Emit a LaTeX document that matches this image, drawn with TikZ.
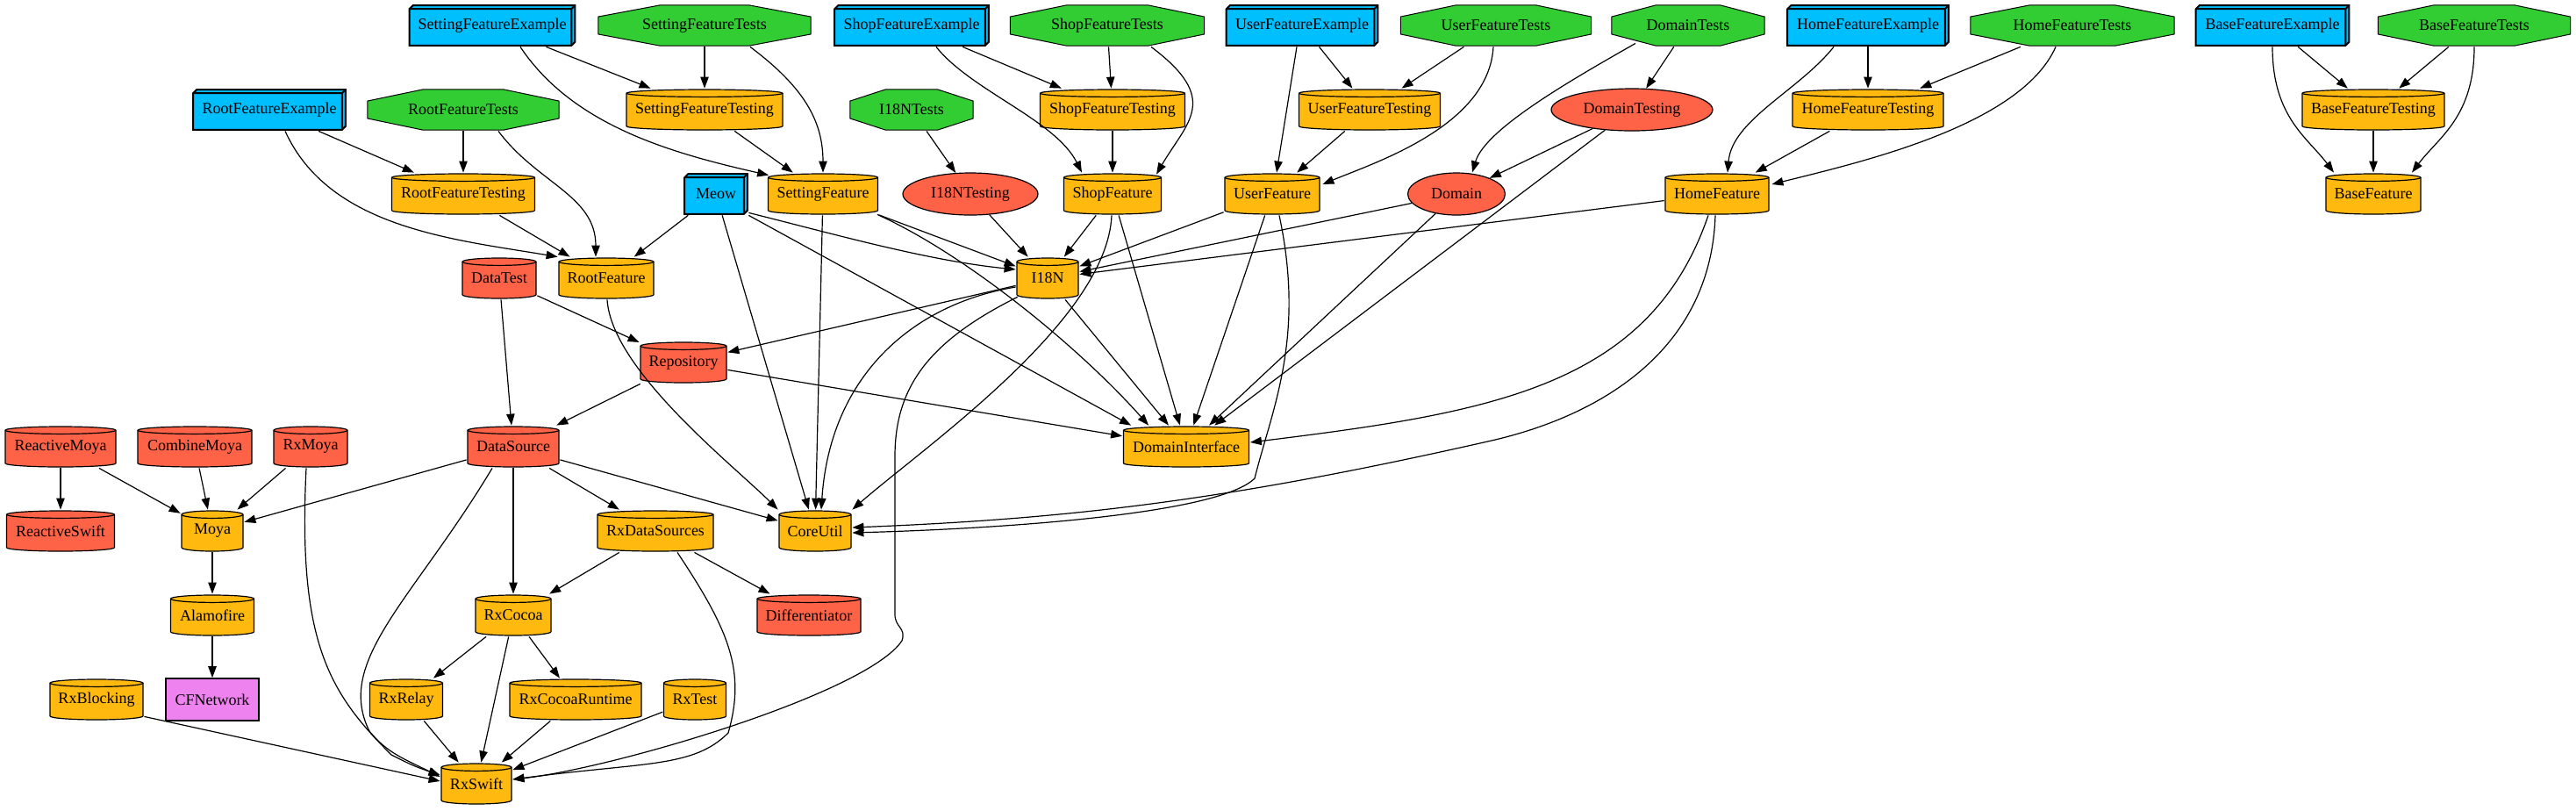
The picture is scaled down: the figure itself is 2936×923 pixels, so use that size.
\documentclass[tikz,border=0pt]{standalone}
\usepackage{fontspec}
\setmainfont{Liberation Serif}
\usetikzlibrary{shapes.geometric,arrows.meta,calc}
\definecolor{orng}{HTML}{FFB90F}
\definecolor{tom}{HTML}{FF6347}
\definecolor{sky}{HTML}{00BFFF}
\definecolor{lgreen}{HTML}{32CD32}
\definecolor{viol}{HTML}{EE82EE}
\tikzset{
  base/.style={inner sep=0pt, minimum height=24pt, font=\fontsize{9}{10}\selectfont, text=black},
  cyl/.style 2 args={base, rectangle, minimum width=#2, path picture={
     \draw[fill=#1, line width=0.6pt] let \p1=(path picture bounding box.south west), \p2=(path picture bounding box.north east), \n1={(\x2-\x1)/2-0.5pt} in
      (\x1+0.5pt,\y2-2.6pt) -- (\x1+0.5pt,\y1+2.6pt) arc[start angle=180,end angle=360,x radius=\n1,y radius=2.1pt] -- (\x2-0.5pt,\y2-2.6pt) arc[start angle=0,end angle=180,x radius=\n1,y radius=2.1pt] -- cycle;
     \draw[line width=0.6pt] let \p1=(path picture bounding box.south west), \p2=(path picture bounding box.north east), \n1={(\x2-\x1)/2-0.5pt} in
      (\x1+0.5pt,\y2-2.6pt) arc[start angle=180,end angle=360,x radius=\n1,y radius=2.1pt];
  }},
  ocyl/.style={cyl={orng}{#1}},
  rcyl/.style={cyl={tom}{#1}},
  b3d/.style={base, rectangle, minimum width=#1, path picture={
     \draw[fill=sky, line width=1pt, line join=miter] let \p1=(path picture bounding box.south west), \p2=(path picture bounding box.north east) in
       (\x1+0.6pt,\y1+0.6pt) -- (\x2-2.6pt,\y1+0.6pt) -- (\x2-0.6pt,\y1+2.6pt) -- (\x2-0.6pt,\y2-0.6pt) -- (\x1+2.6pt,\y2-0.6pt) -- (\x1+0.6pt,\y2-2.6pt) -- cycle;
     \draw[line width=1pt, line join=miter] let \p1=(path picture bounding box.south west), \p2=(path picture bounding box.north east) in
       (\x1+0.6pt,\y2-2.6pt) -- (\x2-2.6pt,\y2-2.6pt) -- (\x2-2.6pt,\y1+0.6pt)
       (\x2-2.6pt,\y2-2.6pt) -- (\x2-0.6pt,\y2-0.6pt);
  }},
  oct/.style={base, rectangle, minimum width=#1, path picture={
     \draw[fill=lgreen, line width=0.5pt] let \p1=(path picture bounding box.south west), \p2=(path picture bounding box.north east), \n1={(\x2-\x1)*0.293}, \n2={(\y2-\y1)*0.293} in
       (\x1+\n1,\y1+0.4pt) -- (\x2-\n1,\y1+0.4pt) -- (\x2-0.4pt,\y1+\n2) -- (\x2-0.4pt,\y2-\n2) -- (\x2-\n1,\y2-0.4pt) -- (\x1+\n1,\y2-0.4pt) -- (\x1+0.4pt,\y2-\n2) -- (\x1+0.4pt,\y1+\n2) -- cycle;
  }},
  ell/.style={base, ellipse, draw, fill=tom, line width=0.6pt, minimum width=#1},
  rbox/.style={base, rectangle, draw, fill=viol, line width=0.8pt, minimum width=#1},
  arr/.style={-{Triangle[length=6.5pt,width=4.7pt]}, line width=0.6pt}
}
\begin{document}
\begin{tikzpicture}[x=0.5pt,y=0.5pt]
\path[use as bounding box] (0,0) rectangle (2936,-923);
% row 1
\node[b3d=95.5pt] (SFE) at (561,-29) {SettingFeatureExample};
\node[oct=122pt] (SFT) at (803,-29) {SettingFeatureTests};
\node[b3d=89pt] (ShFE) at (1039,-29) {ShopFeatureExample};
\node[oct=111.5pt] (ShFT) at (1262,-29) {ShopFeatureTests};
\node[b3d=87.5pt] (UFE) at (1484,-29) {UserFeatureExample};
\node[oct=109.5pt] (UFT) at (1705,-29) {UserFeatureTests};
\node[oct=88pt] (DT) at (1924,-29) {DomainTests};
\node[b3d=93pt] (HFE) at (2129,-29) {HomeFeatureExample};
\node[oct=117pt] (HFT) at (2362,-29) {HomeFeatureTests};
\node[b3d=88.5pt] (BFE) at (2590,-29) {BaseFeatureExample};
\node[oct=110.5pt] (BFT) at (2820,-29) {BaseFeatureTests};
% row 2
\node[b3d=88pt] (RFE) at (307,-125) {RootFeatureExample};
\node[oct=110pt] (RFT) at (528,-125) {RootFeatureTests};
\node[ocyl=90pt] (SFTg) at (803,-125) {SettingFeatureTesting};
\node[oct=71pt] (I18NT) at (1039,-125) {I18NTests};
\node[ocyl=83.5pt] (ShFTg) at (1268,-125) {ShopFeatureTesting};
\node[ocyl=81.5pt] (UFTg) at (1561,-125) {UserFeatureTesting};
\node[ell=92pt] (DTg) at (1860,-125) {DomainTesting};
\node[ocyl=87pt] (HFTg) at (2129,-125) {HomeFeatureTesting};
\node[ocyl=82pt] (BFTg) at (2705,-125) {BaseFeatureTesting};
% row 3
\node[ocyl=82.5pt] (RFTg) at (528,-221) {RootFeatureTesting};
\node[b3d=37pt] (Meow) at (816,-221) {Meow};
\node[ocyl=63.5pt] (SF) at (938,-221) {SettingFeature};
\node[ell=77pt] (I18NTg) at (1106,-221) {I18NTesting};
\node[ocyl=56.5pt] (ShF) at (1268,-221) {ShopFeature};
\node[ocyl=55pt] (UF) at (1450,-221) {UserFeature};
\node[ell=55.5pt] (Dom) at (1660,-221) {Domain};
\node[ocyl=60pt] (HF) at (1957,-221) {HomeFeature};
\node[ocyl=55pt] (BF) at (2705,-221) {BaseFeature};
% row 4
\node[rcyl=43pt] (DataTest) at (569,-317) {DataTest};
\node[ocyl=55pt] (RF) at (691,-317) {RootFeature};
\node[ocyl=36pt] (I18N) at (1194,-317) {I18N};
% row 5
\node[rcyl=50pt] (Repo) at (779,-413) {Repository};
% row 6
\node[rcyl=64pt] (RMoya) at (69,-509) {ReactiveMoya};
\node[rcyl=66pt] (CMoya) at (222,-509) {CombineMoya};
\node[rcyl=43pt] (RxMoya) at (354,-509) {RxMoya};
\node[rcyl=53pt] (DS) at (585,-509) {DataSource};
\node[ocyl=72.5pt] (DI) at (1352,-509) {DomainInterface};
% row 7
\node[rcyl=62.5pt] (RSwift) at (69,-605) {ReactiveSwift};
\node[ocyl=36pt] (Moya) at (242,-605) {Moya};
\node[ocyl=67pt] (RxDS) at (747,-605) {RxDataSources};
\node[ocyl=42pt] (CU) at (929,-605) {CoreUtil};
% row 8
\node[ocyl=48.5pt] (Alamo) at (242,-701) {Alamofire};
\node[ocyl=44pt] (RxCocoa) at (585,-701) {RxCocoa};
\node[rcyl=60pt] (Diff) at (922,-701) {Differentiator};
% row 9
\node[ocyl=54pt] (RxBlk) at (110,-797) {RxBlocking};
\node[rbox=53pt] (CFN) at (242,-797) {CFNetwork};
\node[ocyl=42.5pt] (RxRelay) at (463,-797) {RxRelay};
\node[ocyl=76pt] (RxCR) at (656,-797) {RxCocoaRuntime};
\node[ocyl=36.5pt] (RxTest) at (792,-797) {RxTest};
% row 10
\node[ocyl=41pt] (RxSwift) at (543,-893) {RxSwift};

% ---- edges ----
% Setting
\draw[arr] (SFE) -- (SFTg);
\draw[arr] ($(SFE.south)+(32,0)$) .. controls +(60,-90) and +(-110,25) .. ($(SF.north west)+(2,-3)$);
\draw[arr] (SFT) -- (SFTg);
\draw[arr] ($(SFT.south)+(52,0)$) .. controls +(60,-45) and +(0,60) .. (SF.north);
\draw[arr] (SFTg) -- (SF);
% Root
\draw[arr] (RFE) -- (RFTg);
\draw[arr] ($(RFE.south)+(18,0)$) .. controls +(50,-110) and +(-120,20) .. (RF.north west);
\draw[arr] (RFT) -- (RFTg);
\draw[arr] ($(RFT.south)+(40,0)$) .. controls +(45,-60) and +(0,70) .. ($(RF.north)+(-12,0)$);
\draw[arr] (RFTg) -- (RF);
% Meow
\draw[arr] (Meow) -- (RF);
\draw[arr] (Meow) -- (CU);
\draw[arr] ($(Meow.south east)+(0,3)$) .. controls +(100,-25) and +(-100,10) .. ($(I18N.west)+(0,10)$);
\draw[arr] (Meow.south east) -- ($(DI.north west)+(10,0)$);
% SettingFeature
\draw[arr] (SF) -- (CU);
\draw[arr] (SF) -- (I18N);
\draw[arr] ($(SF.south east)+(-2,1)$) .. controls +(100,-45) and +(-80,90) .. ($(DI.north west)+(30,0)$);
% I18N tests
\draw[arr] (I18NT) -- (I18NTg);
\draw[arr] (I18NTg) -- (I18N);
% Shop
\draw[arr] (ShFE) -- (ShFTg);
\draw[arr] ($(ShFE.south)+(28,0)$) .. controls +(40,-50) and +(-30,60) .. ($(ShF.north)+(-35,0)$);
\draw[arr] (ShFT) -- (ShFTg);
\draw[arr] ($(ShFT.south)+(50,0)$) .. controls +(80,-60) and +(35,60) .. ($(ShF.north)+(50,-2)$);
\draw[arr] (ShFTg) -- (ShF);
\draw[arr] (ShF) -- (I18N);
\draw[arr] (ShF) -- (DI);
\draw[arr] ($(ShF.south)+(-1,0)$) .. controls +(-5,-120) and +(80,70) .. (CU.north east);
% User
\draw[arr] (UFE) -- (UFTg);
\draw[arr] ($(UFE.south)+(-6,0)$) -- ($(UF.north)+(5,0)$);
\draw[arr] (UFT) -- (UFTg);
\draw[arr] ($(UFT.south)+(-3,0)$) .. controls +(-5,-90) and +(60,25) .. ($(UF.east)+(2,11)$);
\draw[arr] (UFTg) -- (UF);
\draw[arr] (UF) -- (I18N);
\draw[arr] (UF) -- (DI);
\draw[arr] ($(UF.south)+(8,0)$) .. controls +(30,-140) and +(20,80) .. (1430,-545) .. controls +(-40,-40) and +(180,5) .. ($(CU.east)+(0,-2)$);
% Domain
\draw[arr] (DT) -- (DTg);
\draw[arr] ($(DT.south)+(-60,4)$) .. controls +(-70,-40) and +(15,50) .. ($(Dom.north)+(18,0)$);
\draw[arr] (DTg) -- (Dom);
\draw[arr] (DTg) -- (DI);
\draw[arr] (Dom) -- (I18N);
\draw[arr] (Dom) -- (DI);
% Home
\draw[arr] (HFE) -- (HFTg);
\draw[arr] ($(HFE.south)+(-39,0)$) .. controls +(-40,-50) and +(5,60) .. ($(HF.north)+(12,0)$);
\draw[arr] (HFT) -- (HFTg);
\draw[arr] ($(HFT.south)+(-19,0)$) .. controls +(-40,-90) and +(100,25) .. ($(HF.east)+(2,11)$);
\draw[arr] (HFTg) -- (HF);
\draw[arr] (HF) -- (I18N);
\draw[arr] ($(HF.south)+(-10,0)$) .. controls +(-67,-195) and +(276,34) .. ($(DI.east)+(0,5)$);
\draw[arr] ($(HF.south)+(-2,0)$) .. controls +(-5,-150) and +(130,30) .. (1700,-502) .. controls +(-300,-68) and +(250,10) .. ($(CU.east)+(0,4)$);
% Base
\draw[arr] (BFE) -- (BFTg);
\draw[arr] (BFE.south) .. controls +(0,-80) and +(-30,40) .. ($(BF.north)+(-45,0)$);
\draw[arr] (BFT) -- (BFTg);
\draw[arr] (BFT.south) .. controls +(0,-80) and +(30,40) .. ($(BF.north)+(44,0)$);
\draw[arr] (BFTg) -- (BF);
% lower
\draw[arr] ($(RF.south)+(1,0)$) .. controls +(5,-80) and +(-50,50) .. (CU.north west);
\draw[arr] (I18N) -- (Repo);
\draw[arr] ($(I18N.west)+(0,-10)$) .. controls +(-120,-20) and +(10,150) .. ($(CU.north)+(7,0)$);
\draw[arr] (I18N) -- (DI);
\draw[arr] ($(I18N.south west)+(2,3)$) .. controls +(-100,-50) and +(0,80) .. (1020,-520) -- (1020,-700) .. controls +(0,-15) and +(5,15) .. (1028,-730) .. controls +(-40,-60) and +(116,13) .. ($(RxSwift.east)+(0,5)$);
\draw[arr] (Repo) -- (DS);
\draw[arr] (Repo) -- (DI);
\draw[arr] (DataTest) -- (DS);
\draw[arr] (DataTest) -- (Repo);
\draw[arr] (DS) -- (Moya);
\draw[arr] (DS) -- (RxCocoa);
\draw[arr] (DS) -- (RxDS);
\draw[arr] (DS) -- (CU);
\draw[arr] ($(DS.south)+(-24,0)$) .. controls +(-90,-150) and +(-40,80) .. (421,-833) .. controls +(20,-25) and +(-40,20) .. ($(RxSwift.west)+(0,8)$);
\draw[arr] ($(RxMoya.south)+(-5,0)$) .. controls +(-10,-200) and +(-70,70) .. (446,-860) .. controls +(20,-10) and +(-30,10) .. ($(RxSwift.west)+(0,10)$);
\draw[arr] (RxMoya) -- (Moya);
\draw[arr] (RMoya) -- (RSwift);
\draw[arr] (RMoya) -- (Moya);
\draw[arr] (CMoya) -- (Moya);
\draw[arr] (Moya) -- (Alamo);
\draw[arr] (Alamo) -- (CFN);
\draw[arr] (RxDS) -- (RxCocoa);
\draw[arr] (RxDS) -- (Diff);
\draw[arr] ($(RxDS.south)+(25,0)$) .. controls +(60,-90) and +(20,70) .. (830,-835) .. controls +(-40,-40) and +(150,20) .. ($(RxSwift.east)+(0,5)$);
\draw[arr] (RxCocoa) -- (RxRelay);
\draw[arr] (RxCocoa) -- (RxCR);
\draw[arr] (RxCocoa) -- (RxSwift);
\draw[arr] (RxRelay) -- (RxSwift);
\draw[arr] (RxCR) -- (RxSwift);
\draw[arr] (RxTest) -- (RxSwift);
\draw[arr] ($(RxBlk.south east)+(0,5)$) -- ($(RxSwift.west)+(0,3)$);
\end{tikzpicture}
\end{document}
